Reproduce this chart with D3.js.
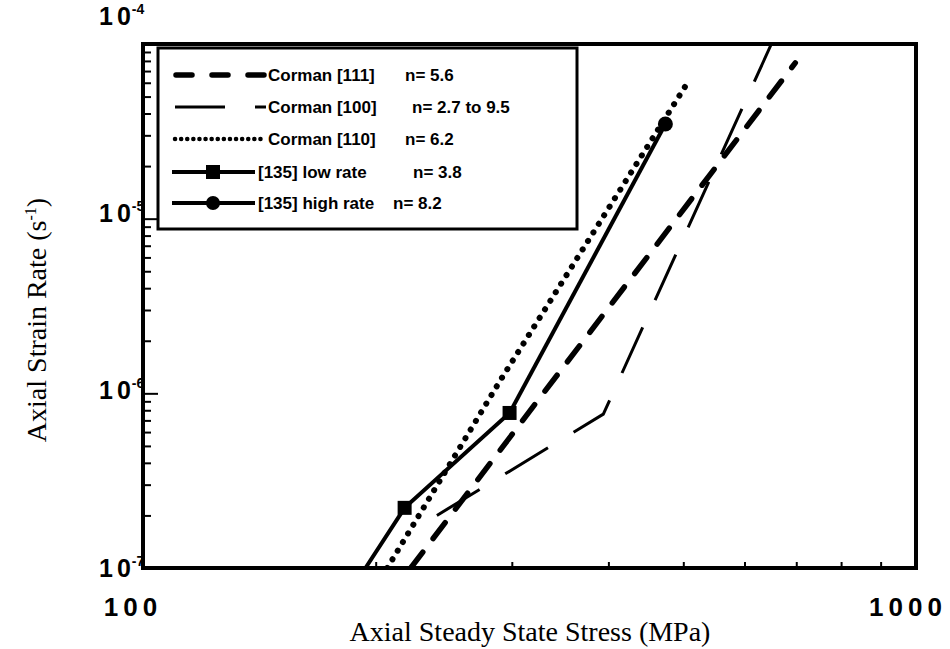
<!DOCTYPE html>
<html>
<head>
<meta charset="utf-8">
<script src="https://cdn.jsdelivr.net/npm/d3@7"></script>
<style>
  body { margin: 0; background: #fff; }
  .tick-label { font-family: "Liberation Sans", Arial, sans-serif; font-weight: bold; fill: #000; }
  .leg { font-family: "Liberation Sans", Arial, sans-serif; font-size: 17px; font-weight: bold; fill: #000; }
  .title { font-family: "Liberation Serif", "Times New Roman", serif; font-size: 28px; fill: #000; }
</style>
</head>
<body>
<svg id="chart" width="950" height="649"></svg>
<script>
// --- data (stress MPa, strain rate 1/s) ---
const xMajor = [100, 1000];
const yMajor = [1e-7, 1e-6, 1e-5, 1e-4];
const yExp = ["-7", "-6", "-5", "-4"];

const corman111 = [[222, 1e-7], [326, 9.4e-7], [698, 7.8e-5]];
const corman100 = [[240, 2.0e-7], [394, 7.6e-7], [650, 1e-4]];
const corman110 = [[207, 1e-7], [290, 1.19e-6], [507, 6.06e-5]];
const lowRate = [[194, 1e-7], [218, 2.21e-7], [298, 7.72e-7]];
const lowRateMarks = [[218, 2.21e-7], [298, 7.72e-7]];
const highRate = [[298, 7.72e-7], [474, 3.48e-5]];
const highRateMarks = [[474, 3.48e-5]];

const legendLabels = ["Corman [111]", "Corman [100]", "Corman [110]", "[135] low rate", "[135] high rate"];
const legendN = ["n= 5.6", "n= 2.7 to 9.5", "n= 6.2", "n= 3.8", "n= 8.2"];

// --- layout ---
const L = 143, R = 916, T = 44, B = 568;
const svg = d3.select('#chart');

const x = d3.scaleLog().domain([100, 1000]).range([L, R]);
const y = d3.scaleLog().domain([1e-7, 1e-4]).range([B, T]);

svg.append('clipPath').attr('id', 'plotclip')
    .append('rect').attr('x', L).attr('y', T).attr('width', R - L).attr('height', B - T);

// minor ticks, pointing inward
const xMinor = d3.range(200, 1000, 100);
const yMinor = [];
for (let d = -7; d < -4; d++) for (let m = 2; m <= 9; m++) yMinor.push(m * Math.pow(10, d));

const xAx = svg.append('g').attr('transform', `translate(0,${B})`)
    .call(d3.axisBottom(x).tickValues(xMinor).tickSize(-6).tickFormat(''));
const yAx = svg.append('g').attr('transform', `translate(${L},0)`)
    .call(d3.axisLeft(y).tickValues(yMinor).tickSize(-8).tickFormat(''));
const yAxMaj = svg.append('g').attr('transform', `translate(${L},0)`)
    .call(d3.axisLeft(y).tickValues(yMajor).tickSize(-15).tickFormat(''));
[xAx, yAx, yAxMaj].forEach(g => {
    g.select('.domain').remove();
    g.selectAll('line').attr('stroke', '#000').attr('stroke-width', 2);
});

// frame
svg.append('rect').attr('x', L).attr('y', T).attr('width', R - L).attr('height', B - T)
    .attr('fill', 'none').attr('stroke', '#000').attr('stroke-width', 4);

// tick labels (nudged like the scanned original)
const xLabShift = [-10, -8];
svg.selectAll('.xlab').data(xMajor).enter().append('text')
    .attr('class', 'tick-label')
    .attr('x', (d, i) => x(d) + xLabShift[i]).attr('y', 616)
    .attr('text-anchor', 'middle')
    .style('font-size', '26px').style('letter-spacing', '5px')
    .text(d => d);

const yLabShift = [9, 6, 3, -19];
const ylab = svg.selectAll('.ylab').data(yMajor).enter().append('text')
    .attr('class', 'tick-label')
    .attr('x', 99).attr('y', (d, i) => y(d) + yLabShift[i])
    .style('font-size', '25px');
ylab.append('tspan').text('1');
ylab.append('tspan').attr('dx', 4).text('0');
ylab.append('tspan').attr('dx', 1).attr('dy', -11).style('font-size', '14px').text((d, i) => yExp[i]);

// series
const line = d3.line().x(d => x(d[0])).y(d => y(d[1]));
const plot = svg.append('g').attr('clip-path', 'url(#plotclip)');

plot.append('path').datum(corman100).attr('d', line)
    .attr('fill', 'none').attr('stroke', '#000').attr('stroke-width', 3)
    .attr('stroke-dasharray', '50,30');
plot.append('path').datum(corman111).attr('d', line)
    .attr('fill', 'none').attr('stroke', '#000').attr('stroke-width', 5.5)
    .attr('stroke-linecap', 'round').attr('stroke-dasharray', '20,17');
plot.append('path').datum(corman110).attr('d', line)
    .attr('fill', 'none').attr('stroke', '#000').attr('stroke-width', 6)
    .attr('stroke-linecap', 'round').attr('stroke-dasharray', '0.1,10');
plot.append('path').datum(lowRate).attr('d', line)
    .attr('fill', 'none').attr('stroke', '#000').attr('stroke-width', 4);
plot.append('path').datum(highRate).attr('d', line)
    .attr('fill', 'none').attr('stroke', '#000').attr('stroke-width', 4);
plot.selectAll('.sq').data(lowRateMarks).enter().append('rect')
    .attr('x', d => x(d[0]) - 7).attr('y', d => y(d[1]) - 7)
    .attr('width', 14).attr('height', 14).attr('fill', '#000');
plot.selectAll('.ci').data(highRateMarks).enter().append('circle')
    .attr('cx', d => x(d[0])).attr('cy', d => y(d[1])).attr('r', 7.5).attr('fill', '#000');

// legend
const leg = svg.append('g');
leg.append('rect').attr('x', 158).attr('y', 48).attr('width', 419).attr('height', 181)
    .attr('fill', '#fff').attr('stroke', '#000').attr('stroke-width', 3);
const rowY = [75, 107, 139, 172, 203];
const sampleStyles = [
    { w: 5.5, dash: '16,20', cap: 'round', x0: 176, x1: 266 },
    { w: 3, dash: '50,30', cap: 'butt', x0: 175, x1: 266 },
    { w: 4.5, dash: '0.1,6', cap: 'round', x0: 175, x1: 262 },
    { w: 4, dash: null, cap: 'butt', x0: 172, x1: 255 },
    { w: 4, dash: null, cap: 'butt', x0: 172, x1: 255 }
];
legendLabels.forEach((lab, i) => {
    const s = sampleStyles[i];
    leg.append('line').attr('x1', s.x0).attr('x2', s.x1).attr('y1', rowY[i]).attr('y2', rowY[i])
        .attr('stroke', '#000').attr('stroke-width', s.w).attr('stroke-linecap', s.cap)
        .attr('stroke-dasharray', s.dash);
    if (i === 3) leg.append('rect').attr('x', 206).attr('y', rowY[i] - 7).attr('width', 14).attr('height', 14);
    if (i === 4) leg.append('circle').attr('cx', 213).attr('cy', rowY[i]).attr('r', 7);
    leg.append('text').attr('class', 'leg').attr('x', i < 3 ? 268 : 258).attr('y', rowY[i] + 6).text(lab);
    leg.append('text').attr('class', 'leg').attr('x', [405, 412, 405, 413, 393][i]).attr('y', rowY[i] + 6).text(legendN[i]);
});

// axis titles
svg.append('text').attr('class', 'title').attr('x', 530).attr('y', 641)
    .attr('text-anchor', 'middle').text('Axial Steady State Stress (MPa)');
const yt = svg.append('text').attr('class', 'title')
    .attr('transform', 'translate(46,320) rotate(-90)')
    .attr('text-anchor', 'middle');
yt.append('tspan').text('Axial Strain Rate (s');
yt.append('tspan').attr('dy', -10).style('font-size', '16px').text('-1');
yt.append('tspan').attr('dy', 10).text(')');
</script>
</body>
</html>
